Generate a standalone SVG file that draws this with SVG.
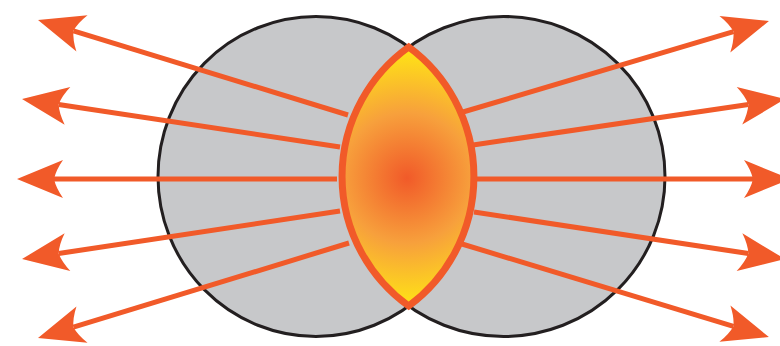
<svg xmlns="http://www.w3.org/2000/svg" width="780" height="346" viewBox="0 0 780 346">
<style>
.circ{fill:#c7c8ca;stroke:#231f20;stroke-width:3}
.arr{fill:none;stroke:#f15a29;stroke-width:5;marker-end:url(#head)}
.lens{fill:url(#glow);stroke:#f15a29;stroke-width:7;stroke-linejoin:miter;stroke-miterlimit:10}
</style>
<defs>
<radialGradient id="glow" gradientUnits="userSpaceOnUse" cx="407" cy="178" r="130">
<stop offset="0" stop-color="#f15a29"/>
<stop offset="0.5" stop-color="#f7a03c"/>
<stop offset="1" stop-color="#ffe614"/>
</radialGradient>
<marker id="head" markerUnits="userSpaceOnUse" markerWidth="60" markerHeight="60" refX="0" refY="0" orient="auto" overflow="visible">
<path d="M37,0 L-9,-19 Q-2,-9 0,0 Q-2,9 -9,19 Z" fill="#f15a29"/>
</marker>
</defs>
<g id="circle-left"><ellipse class="circ" cx="316" cy="176.5" rx="158" ry="160"/></g>
<g id="circle-right"><ellipse class="circ" cx="503.5" cy="176.5" rx="161.5" ry="160"/></g>
<g id="connectors">
<path class="arr" d="M348,115 L73.4,30.8"/>
<path class="arr" d="M340,147 L58.6,104.5"/>
<path class="arr" d="M337,179 L54,179"/>
<path class="arr" d="M340,211 L58.6,253.5"/>
<path class="arr" d="M349,243 L73.4,327.2"/>
<path class="arr" d="M463,112 L733.5,31.6"/>
<path class="arr" d="M473,145 L748.4,104.5"/>
<path class="arr" d="M475,179 L753,179"/>
<path class="arr" d="M474,212 L748.4,253.5"/>
<path class="arr" d="M462,244 L733.5,326.3"/>
</g>
<g id="lens"><path class="lens" d="M408.7,47 A161.5,160 0 0 0 408.7,306 A158,160 0 0 0 408.7,47 Z"/></g>
</svg>
